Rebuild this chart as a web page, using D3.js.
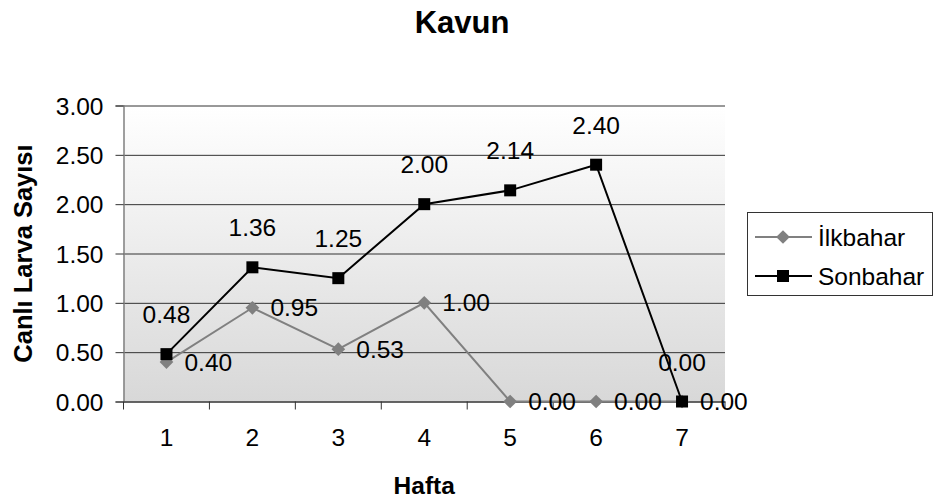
<!DOCTYPE html>
<html>
<head>
<meta charset="utf-8">
<script src="https://cdn.jsdelivr.net/npm/d3@7"></script>
<style>
  body { margin: 0; background: #fff; }
  text { font-family: "Liberation Sans", Arial, sans-serif; fill: #000; }
</style>
</head>
<body>
<div id="chart"></div>
<script>
// veriler
const weeks = ["1", "2", "3", "4", "5", "6", "7"];
const ilkbahar = [0.40, 0.95, 0.53, 1.00, 0.00, 0.00, 0.00];
const sonbahar = [0.48, 1.36, 1.25, 2.00, 2.14, 2.40, 0.00];
const yTicks = [0, 0.5, 1, 1.5, 2, 2.5, 3];

const width = 934;
const height = 498;
const plot = { left: 123.5, right: 725, top: 105.5, bottom: 401.5 };
const fs = 24.5;

const svg = d3.select("#chart")
  .append("svg")
  .attr("width", width)
  .attr("height", height);

// arka plan gradyan
const grad = svg.append("defs").append("linearGradient")
  .attr("id", "bg")
  .attr("x1", 0).attr("y1", 0).attr("x2", 0).attr("y2", 1);
grad.append("stop").attr("offset", "0%").attr("stop-color", "#ffffff");
grad.append("stop").attr("offset", "100%").attr("stop-color", "#d8d8d8");

svg.append("rect")
  .attr("x", plot.left)
  .attr("y", plot.top)
  .attr("width", plot.right - plot.left)
  .attr("height", plot.bottom - plot.top)
  .attr("fill", "url(#bg)");

const x = d3.scaleBand()
  .domain(weeks)
  .range([plot.left, plot.right])
  .padding(0);

const y = d3.scaleLinear()
  .domain([0, 3])
  .range([plot.bottom, plot.top]);

const cx = i => x(weeks[i]) + x.bandwidth() / 2;

// yatay kılavuz çizgileri
svg.append("g")
  .attr("transform", `translate(${plot.left},0)`)
  .call(d3.axisLeft(y).tickValues(yTicks).tickSize(-(plot.right - plot.left)).tickFormat(""))
  .call(g => g.select(".domain").remove())
  .call(g => g.selectAll(".tick line").attr("stroke", "#333").attr("stroke-width", 1));

// y ekseni
const yAxis = svg.append("g")
  .attr("transform", `translate(${plot.left},0)`)
  .call(d3.axisLeft(y).tickValues(yTicks).tickSize(8).tickPadding(12).tickFormat(d3.format(".2f")));
yAxis.select(".domain").attr("stroke", "#808080").attr("stroke-width", 1.5);
yAxis.selectAll(".tick line").attr("stroke", "#333");
yAxis.selectAll(".tick text")
  .attr("font-size", fs)
  .attr("dy", "0.35em")
  .attr("font-family", "Liberation Sans, Arial, sans-serif");

// x ekseni
const xAxis = svg.append("g")
  .attr("transform", `translate(0,${plot.bottom})`)
  .call(d3.axisBottom(x).tickSize(0).tickPadding(27));
xAxis.select(".domain").attr("stroke", "#333").attr("stroke-width", 1);
xAxis.selectAll(".tick text")
  .attr("font-size", fs)
  .attr("font-family", "Liberation Sans, Arial, sans-serif");

// kategori sınır çizgileri
const bounds = weeks.map(w => x(w)).concat([plot.right]);
svg.append("g")
  .selectAll("line")
  .data(bounds)
  .join("line")
  .attr("x1", d => d).attr("x2", d => d)
  .attr("y1", plot.bottom).attr("y2", plot.bottom + 8)
  .attr("stroke", "#333");

const line = d3.line()
  .x((d, i) => cx(i))
  .y(d => y(d));

// İlkbahar serisi
svg.append("path")
  .datum(ilkbahar)
  .attr("d", line)
  .attr("fill", "none")
  .attr("stroke", "#808080")
  .attr("stroke-width", 2);

svg.append("g")
  .selectAll("path")
  .data(ilkbahar)
  .join("path")
  .attr("d", d3.symbol(d3.symbolDiamond2, 120))
  .attr("transform", (d, i) => `translate(${cx(i)},${y(d)})`)
  .attr("fill", "#808080");

// Sonbahar serisi
svg.append("path")
  .datum(sonbahar)
  .attr("d", line)
  .attr("fill", "none")
  .attr("stroke", "#000")
  .attr("stroke-width", 2);

svg.append("g")
  .selectAll("rect")
  .data(sonbahar)
  .join("rect")
  .attr("x", (d, i) => cx(i) - 6)
  .attr("y", d => y(d) - 6)
  .attr("width", 12)
  .attr("height", 12)
  .attr("fill", "#000");

// veri etiketleri
svg.append("g")
  .selectAll("text")
  .data(ilkbahar)
  .join("text")
  .attr("x", (d, i) => cx(i) + 18)
  .attr("y", d => y(d) + 8.5)
  .attr("font-size", fs)
  .text(d => d3.format(".2f")(d));

svg.append("g")
  .selectAll("text")
  .data(sonbahar)
  .join("text")
  .attr("x", (d, i) => cx(i))
  .attr("y", d => y(d) - 31)
  .attr("text-anchor", "middle")
  .attr("font-size", fs)
  .text(d => d3.format(".2f")(d));

// başlıklar
svg.append("text")
  .attr("x", 462)
  .attr("y", 33)
  .attr("text-anchor", "middle")
  .attr("font-size", 31)
  .attr("font-weight", "bold")
  .text("Kavun");

svg.append("text")
  .attr("transform", `translate(32,${(plot.top + plot.bottom) / 2}) rotate(-90)`)
  .attr("text-anchor", "middle")
  .attr("font-size", 25.5)
  .attr("font-weight", "bold")
  .text("Canlı Larva Sayısı");

svg.append("text")
  .attr("x", (plot.left + plot.right) / 2)
  .attr("y", 494)
  .attr("text-anchor", "middle")
  .attr("font-size", 24.5)
  .attr("font-weight", "bold")
  .text("Hafta");

// lejant
const legend = svg.append("g");
legend.append("rect")
  .attr("x", 747.5).attr("y", 212.5)
  .attr("width", 185).attr("height", 83)
  .attr("fill", "#fff")
  .attr("stroke", "#333");

const series = [
  { name: "İlkbahar", color: "#808080", y: 237 },
  { name: "Sonbahar", color: "#000", y: 276 }
];

legend.selectAll("line")
  .data(series)
  .join("line")
  .attr("x1", 755).attr("x2", 812)
  .attr("y1", d => d.y).attr("y2", d => d.y)
  .attr("stroke", d => d.color)
  .attr("stroke-width", 2);

legend.append("path")
  .attr("d", d3.symbol(d3.symbolDiamond2, 120))
  .attr("transform", `translate(783,${series[0].y})`)
  .attr("fill", "#808080");

legend.append("rect")
  .attr("x", 777).attr("y", series[1].y - 6)
  .attr("width", 12).attr("height", 12)
  .attr("fill", "#000");

legend.selectAll("text")
  .data(series)
  .join("text")
  .attr("x", 818)
  .attr("y", d => d.y + 8.5)
  .attr("font-size", fs)
  .text(d => d.name);
</script>
</body>
</html>
